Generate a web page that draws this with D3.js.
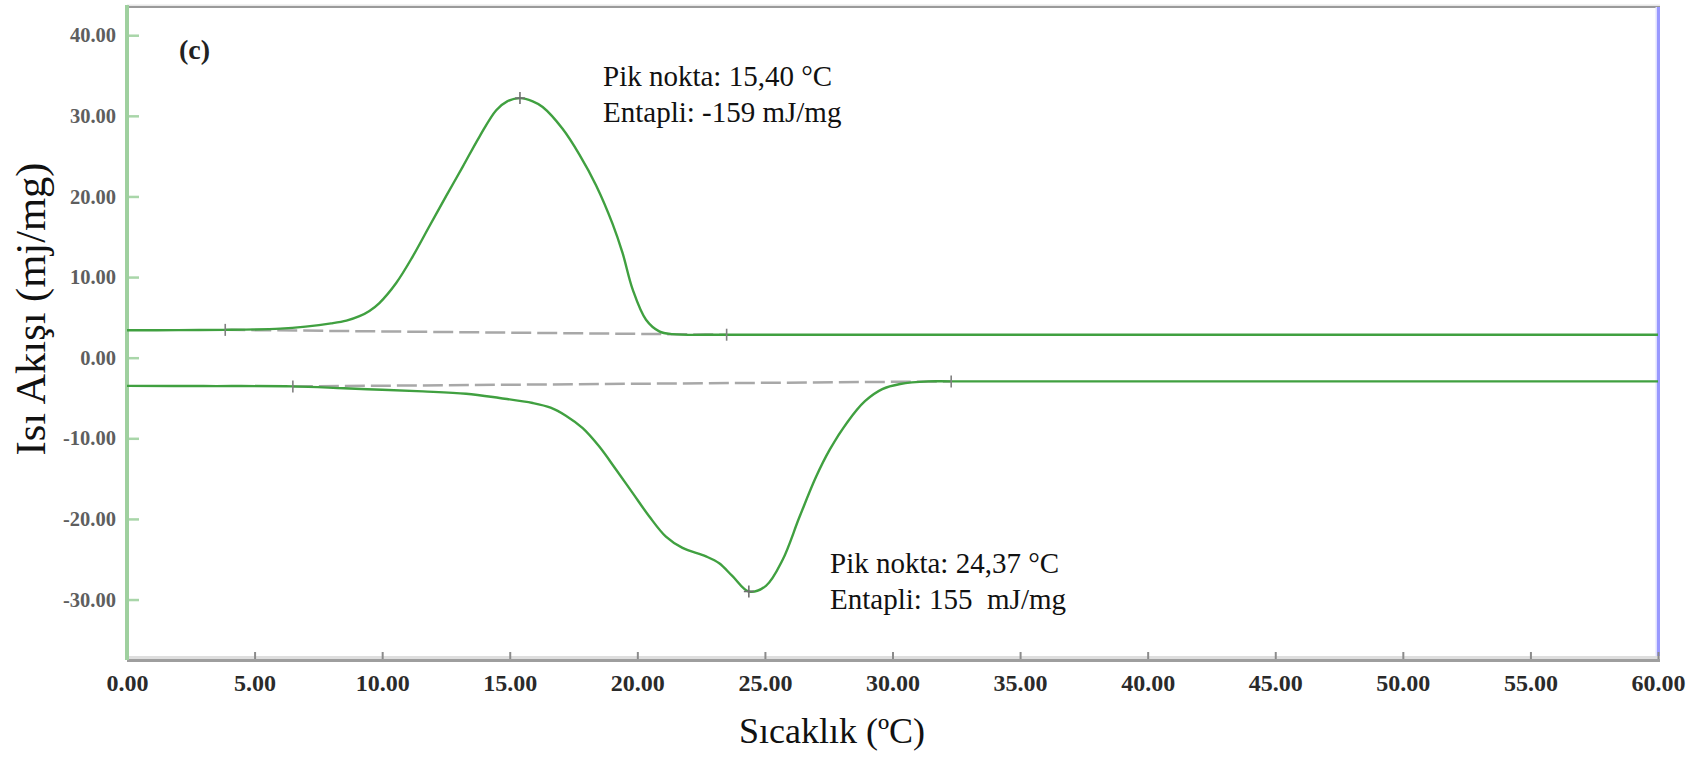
<!DOCTYPE html>
<html>
<head>
<meta charset="utf-8">
<script src="https://cdn.jsdelivr.net/npm/d3@7"></script>
<style>
  html, body { margin: 0; padding: 0; background: #ffffff; }
  svg { display: block; font-family: "Liberation Serif", "Times New Roman", serif; }
  .pre { white-space: pre; }
</style>
</head>
<body>
<svg id="chart" width="1701" height="758"></svg>
<script>
// DSC thermogram: heat flow (mJ/mg) against temperature (°C)

// Cooling run (exothermic peak, upper trace)
const coolTemp = [0, 2, 3.85, 6, 7.0, 8.0, 8.6, 9.11, 9.5, 9.89, 10.55, 11.2, 11.85, 12.5, 13.16, 13.81,
                  14.47, 14.9, 15.4, 15.9, 16.29, 17.07, 17.73, 18.38, 19.03, 19.42, 19.82, 20.34, 20.86, 21.38,
                  23.5, 30, 40, 50, 60];
const coolFlow = [3.4, 3.42, 3.45, 3.6, 3.85, 4.25, 4.6, 5.15, 5.8, 6.78, 9.27, 12.57, 16.3, 20.0, 23.7, 27.4,
                  30.7, 31.8, 32.2, 31.8, 31.1, 28.4, 25.2, 21.4, 16.6, 13.0, 8.44, 4.71, 3.27, 2.92,
                  2.85, 2.85, 2.85, 2.85, 2.85];

// Heating run (endothermic peak, lower trace)
const heatTemp = [0, 3, 6.5, 8.5, 10.0, 11.6, 13.29, 14.6, 15.9, 16.6, 17.2, 17.86, 18.5, 19.17, 19.82,
                  20.47, 21.12, 21.77, 22.69, 23.21, 23.73, 24.37, 25.04, 25.69, 26.35, 27.0, 27.54,
                  28.23, 28.92, 29.6, 30.3, 31.4, 32.3, 40, 48.4, 60];
const heatFlow = [-3.5, -3.52, -3.56, -3.8, -3.98, -4.18, -4.47, -5.0, -5.62, -6.2, -7.2, -8.75, -11.0,
                  -13.9, -16.8, -19.7, -22.2, -23.6, -24.65, -25.5, -27.1, -29.0, -28.3, -25.1, -19.8,
                  -14.8, -11.4, -8.0, -5.4, -3.9, -3.27, -2.94, -2.94, -2.94, -2.94, -2.94];

// Integration baselines (start / end points)
const coolBaseTemp = [3.85, 23.5];
const coolBaseFlow = [3.45, 2.85];
const heatBaseTemp = [6.5, 32.3];
const heatBaseFlow = [-3.56, -2.94];

// Peak points
const peakTemp = [15.40, 24.37];
const peakFlow = [32.2, -29.0];

// Axis ticks
const xTicks = [0, 5, 10, 15, 20, 25, 30, 35, 40, 45, 50, 55, 60];
const xTickLabels = ["0.00", "5.00", "10.00", "15.00", "20.00", "25.00", "30.00", "35.00", "40.00",
                     "45.00", "50.00", "55.00", "60.00"];
const yTicks = [-30, -20, -10, 0, 10, 20, 30, 40];
const yTickLabels = ["-30.00", "-20.00", "-10.00", "0.00", "10.00", "20.00", "30.00", "40.00"];

// Annotation texts
const peakNotes = [
  ["Pik nokta: 15,40 °C", "Entapli: -159 mJ/mg"],
  ["Pik nokta: 24,37 °C", "Entapli: 155  mJ/mg"]
];

const svg = d3.select("#chart");
const plotL = 127, plotR = 1658, plotT = 7, plotB = 660;

const x = d3.scaleLinear().domain([0, 60]).range([plotL, plotR]);
const y = d3.scaleLinear().domain([-37.5, 43.5]).range([plotB, plotT]);

// Frame: grey top, blue right
svg.append("line").attr("x1", plotL).attr("x2", plotR + 2).attr("y1", plotT - 1.5).attr("y2", plotT - 1.5)
  .attr("stroke", "#e8e8e8").attr("stroke-width", 2);
svg.append("line").attr("x1", plotL).attr("x2", plotR + 2).attr("y1", plotT).attr("y2", plotT)
  .attr("stroke", "#9a9a9a").attr("stroke-width", 2);
svg.append("line").attr("x1", plotR - 1.5).attr("x2", plotR - 1.5).attr("y1", plotT).attr("y2", plotB)
  .attr("stroke", "#e0e0ff").attr("stroke-width", 2);
svg.append("line").attr("x1", plotR + 0.5).attr("x2", plotR + 0.5).attr("y1", plotT).attr("y2", plotB)
  .attr("stroke", "#9999ff").attr("stroke-width", 3);

// Bottom axis
const xAxis = d3.axisBottom(x)
  .tickValues(xTicks)
  .tickFormat((d, i) => xTickLabels[i])
  .tickSizeInner(-8)
  .tickSizeOuter(0)
  .tickPadding(14);
const gx = svg.append("g").attr("transform", `translate(0,${plotB})`).call(xAxis);
gx.select(".domain").remove();
gx.insert("line", ":first-child").attr("x1", plotL).attr("x2", plotR + 2).attr("y1", -2.5).attr("y2", -2.5)
  .attr("stroke", "#dedede").attr("stroke-width", 3);
gx.append("line").attr("x1", plotL).attr("x2", plotR + 2).attr("y1", 0.5).attr("y2", 0.5)
  .attr("stroke", "#9e9e9e").attr("stroke-width", 3);
gx.selectAll(".tick line").attr("stroke", "#8c8c8c").attr("stroke-width", 2);
gx.selectAll(".tick text")
  .attr("fill", "#2a2a2a")
  .attr("font-family", "Liberation Serif, serif")
  .attr("font-weight", "bold")
  .attr("font-size", 24);

// Left axis (green)
const yAxis = d3.axisLeft(y)
  .tickValues(yTicks)
  .tickFormat((d, i) => yTickLabels[i])
  .tickSizeInner(-12)
  .tickSizeOuter(0)
  .tickPadding(11);
const gy = svg.append("g").attr("transform", `translate(${plotL},0)`).call(yAxis);
gy.select(".domain").remove();
gy.selectAll(".tick line").attr("stroke", "#a9d6a9").attr("stroke-width", 2.5);
gy.selectAll(".tick text")
  .attr("fill", "#5e5e5e")
  .attr("font-family", "Liberation Serif, serif")
  .attr("font-weight", "bold")
  .attr("font-size", 20.5);
gy.append("line").attr("x1", 0).attr("x2", 0).attr("y1", plotT - 2).attr("y2", plotB)
  .attr("stroke", "#9fd09f").attr("stroke-width", 4);

// Baselines (dashed grey)
const baseLine = d3.line().x(d => x(d[0])).y(d => y(d[1]));
[[coolBaseTemp, coolBaseFlow], [heatBaseTemp, heatBaseFlow]].forEach(([t, f]) => {
  svg.append("path")
    .attr("d", baseLine(t.map((v, i) => [v, f[i]])))
    .attr("fill", "none")
    .attr("stroke", "#a8a8a8")
    .attr("stroke-width", 2.5)
    .attr("stroke-dasharray", "20 6");
});

// Thermogram traces
const trace = d3.line().x(d => x(d[0])).y(d => y(d[1])).curve(d3.curveCatmullRom.alpha(0.5));
[[coolTemp, coolFlow], [heatTemp, heatFlow]].forEach(([t, f]) => {
  svg.append("path")
    .attr("d", trace(t.map((v, i) => [v, f[i]])))
    .attr("fill", "none")
    .attr("stroke", "#40a040")
    .attr("stroke-width", 2.4)
    .attr("stroke-linejoin", "round");
});

// Integration limit markers
const limits = [
  [coolBaseTemp[0], coolBaseFlow[0]], [coolBaseTemp[1], coolBaseFlow[1]],
  [heatBaseTemp[0], heatBaseFlow[0]], [heatBaseTemp[1], heatBaseFlow[1]]
];
svg.selectAll(".limit").data(limits).join("line")
  .attr("class", "limit")
  .attr("x1", d => x(d[0])).attr("x2", d => x(d[0]))
  .attr("y1", d => y(d[1]) - 6).attr("y2", d => y(d[1]) + 6)
  .attr("stroke", "#808080").attr("stroke-width", 1.6);

// Peak markers (+)
const peaks = peakTemp.map((t, i) => [t, peakFlow[i]]);
const pk = svg.selectAll(".peak").data(peaks).join("g").attr("class", "peak")
  .attr("transform", d => `translate(${x(d[0])},${y(d[1])})`);
pk.append("line").attr("x1", 0).attr("x2", 0).attr("y1", -6).attr("y2", 6)
  .attr("stroke", "#707070").attr("stroke-width", 1.6);
pk.append("line").attr("x1", -5).attr("x2", 5).attr("y1", 0).attr("y2", 0)
  .attr("stroke", "#707070").attr("stroke-width", 1.6);

// Peak annotations
const notePos = [[603, 86], [830, 573]];
peakNotes.forEach((lines, i) => {
  lines.forEach((s, j) => {
    svg.append("text")
      .attr("class", "pre")
      .attr("x", notePos[i][0])
      .attr("y", notePos[i][1] + j * 36)
      .attr("font-size", 29)
      .attr("fill", "#111")
      .text(s);
  });
});

// Panel label
svg.append("text").attr("x", 179).attr("y", 59)
  .attr("font-size", 28).attr("font-weight", "bold").attr("fill", "#222")
  .text("(c)");

// Axis titles
svg.append("text")
  .attr("x", 832).attr("y", 743)
  .attr("text-anchor", "middle")
  .attr("font-size", 36)
  .attr("fill", "#111")
  .text("Sıcaklık (ºC)");

svg.append("text")
  .attr("transform", "translate(45,309) rotate(-90)")
  .attr("text-anchor", "middle")
  .attr("font-size", 42.5)
  .attr("fill", "#111")
  .text("Isı Akışı (mj/mg)");
</script>
</body>
</html>
